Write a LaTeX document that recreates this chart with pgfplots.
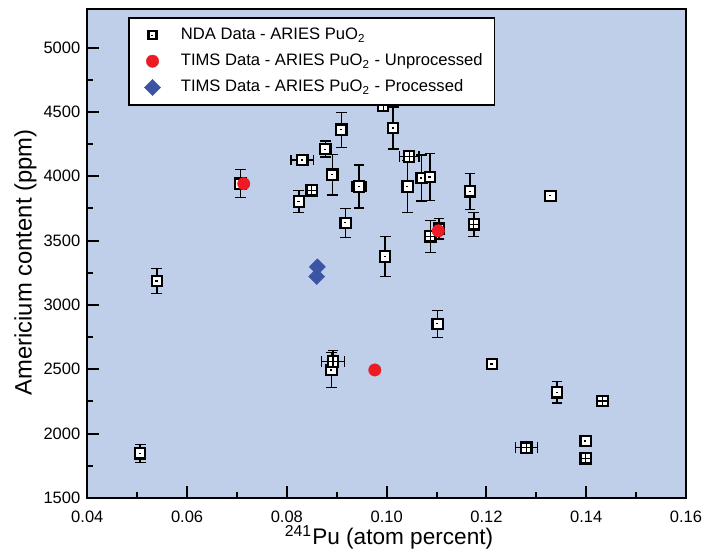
\documentclass[border=0pt]{standalone}
\usepackage{fontspec}
\setmainfont{Liberation Sans}
\usepackage{pgfplots}
\usepackage{pgfplotstable}
\pgfplotsset{compat=1.18}
\definecolor{bgblue}{RGB}{192,207,233}
\definecolor{mred}{RGB}{237,28,36}
\definecolor{mblue}{RGB}{59,84,164}

\pgfdeclareplotmark{sqdot}{%
  \pgfpathrectangle{\pgfqpoint{-\pgfplotmarksize}{-\pgfplotmarksize}}{\pgfqpoint{2\pgfplotmarksize}{2\pgfplotmarksize}}%
  \pgfusepathqfillstroke
  \begin{pgfscope}%
  \pgfsetfillcolor{black}%
  \pgfpathrectangle{\pgfqpoint{-0.75pt}{-0.3pt}}{\pgfqpoint{1.1pt}{0.6pt}}%
  \pgfusepathqfill
  \end{pgfscope}%
}
\pgfdeclareplotmark{sqgrid}{%
  \pgfpathrectangle{\pgfqpoint{-\pgfplotmarksize}{-\pgfplotmarksize}}{\pgfqpoint{2\pgfplotmarksize}{2\pgfplotmarksize}}%
  \pgfusepathqfillstroke
  \begin{pgfscope}%
  \pgfsetlinewidth{0.6pt}%
  \pgfpathmoveto{\pgfqpoint{-\pgfplotmarksize}{0pt}}\pgfpathlineto{\pgfqpoint{\pgfplotmarksize}{0pt}}%
  \pgfpathmoveto{\pgfqpoint{0pt}{-\pgfplotmarksize}}\pgfpathlineto{\pgfqpoint{0pt}{\pgfplotmarksize}}%
  \pgfusepathqstroke
  \end{pgfscope}%
}

\pgfplotstableread{
x y ex ey
0.05059 1848 0 70
0.05395 3187 0 97
0.07069 3942 0 109
0.08241 3804 0 86
0.08310 4126 0.00227 30
0.08772 4211 0 62
0.08912 4012 0 156
0.09093 4362 0 136
0.09180 3638 0 113
0.09447 3921 0.0014 166
0.10131 4375 0 163
0.09970 3376 0 155
0.10420 3921 0 202
0.10701 3986 0 179
0.10868 3994 0 183
0.11049 3592 0 78
0.11672 3883 0 140
0.11023 2853 0 105
0.12108 2542 0 25
0.13286 3848 0 25
0.13415 2322 0 83
0.13990 1943 0 25
0.08893 2495 0 135
}\ndaplain

\pgfplotstableread{
x y ex ey
0.08497 3891 0 30
0.09929 4548 0 30
0.10452 4154 0.0020 30
0.10874 3533 0 124
0.11747 3627 0 93
0.14326 2254 0 25
0.12798 1891 0.0022 25
0.13990 1809 0 25
0.08925 2560 0.0023 85
}\ndagrid

\pgfplotstableread{
x y
0.07136 3942
0.09763 2495
0.11035 3576
}\timsunproc

\pgfplotstableread{
x y
0.08611 3296
0.08597 3221
}\timsproc

\begin{document}
\begin{tikzpicture}
\begin{axis}[
  scale only axis, width=299.35pt, height=244.5pt,
  xmin=0.04, xmax=0.16, ymin=1500, ymax=5300,
  axis background/.style={fill=bgblue},
  axis line style={line width=1.2pt},
  tick align=inside, tick pos=left,
  xtick={0.04,0.06,0.08,0.10,0.12,0.14,0.16},
  ytick={1500,2000,2500,3000,3500,4000,4500,5000},
  minor x tick num=1, minor y tick num=1,
  major tick length=5.8pt, minor tick length=3pt,
  every tick/.style={black, line width=1pt},
  tick label style={font=\fontsize{8.25}{10}\selectfont},
  /pgf/number format/assume math mode=true,
  xticklabel style={yshift=-3pt, /pgf/number format/.cd, fixed, fixed zerofill, precision=2},
  yticklabel style={/pgf/number format/1000 sep={}},
  xlabel={\textsuperscript{241}Pu (atom percent)},
  ylabel={Americium content (ppm)},
  every axis x label/.style={at={(axis description cs:0.504,0)}, yshift=-19.5pt, anchor=center, font=\fontsize{11.3}{13}\selectfont},
  every axis y label/.style={at={(axis description cs:-0.1032,0.4816)}, rotate=90, anchor=center, font=\fontsize{11.9}{13}\selectfont},
  legend cell align=left,
  legend image code/.code={%
    \path (-7.15pt,0pt) (11.55pt,0pt);
    \draw[mark repeat=2,mark phase=2,#1] plot coordinates {(-1pt,0pt) (0pt,0pt) (1pt,0pt)};},
  legend style={at={(axis description cs:0.0685,0.983)}, anchor=north west,
    draw=black, line width=0.6pt, fill=white,
    font=\fontsize{8.3}{9.5}\selectfont, inner xsep=4pt, inner ysep=3pt, row sep=1.6pt},
  error bars/error bar style={black, line width=0.7pt, solid},
  error bars/error mark options={rotate=90, draw=black, line width=0.7pt, mark size=2.7pt},
]
\addplot[forget plot, only marks, mark=none,
  error bars/.cd, x dir=both, x explicit, y dir=both, y explicit]
  table[x=x, y=y, x error=ex, y error=ey] {\ndagrid};
\addplot[forget plot, only marks, mark=none,
  error bars/.cd, x dir=both, x explicit, y dir=both, y explicit]
  table[x=x, y=y, x error=ex, y error=ey] {\ndaplain};
\addplot[only marks, mark=sqdot, mark size=2.6pt,
  mark options={fill=white, draw=black, line width=1.1pt, solid},
  legend image post style={mark size=2pt, line width=1.3pt}]
  table[x=x, y=y] {\ndaplain};
\addlegendentry{NDA Data - ARIES PuO\textsubscript{2}}
\addplot[forget plot, only marks, mark=sqgrid, mark size=2.6pt,
  mark options={fill=white, draw=black, line width=1.1pt, solid}]
  table[x=x, y=y] {\ndagrid};
\addplot[only marks, mark=*, mark size=3.1pt,
  mark options={fill=mred, draw=mred, line width=0.2pt}]
  table[x=x, y=y] {\timsunproc};
\addlegendentry{TIMS Data - ARIES PuO\textsubscript{2} - Unprocessed}
\addplot[only marks, mark=square*, mark size=2.85pt,
  mark options={fill=mblue, draw=mblue, line width=0.2pt, rotate=45}]
  table[x=x, y=y] {\timsproc};
\addlegendentry{TIMS Data - ARIES PuO\textsubscript{2} - Processed}
\end{axis}
\pgfresetboundingbox
\useasboundingbox (-43.65pt,-27pt) rectangle (313.35pt,249pt);
\end{tikzpicture}
\end{document}
